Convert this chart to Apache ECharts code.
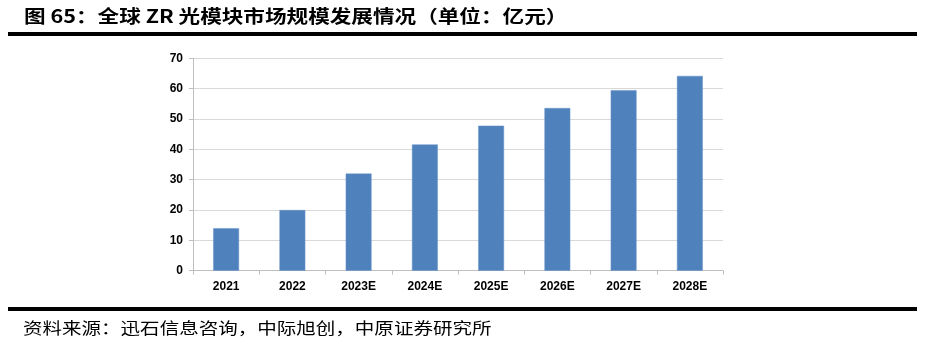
<!DOCTYPE html>
<html>
<head>
<meta charset="utf-8">
<script src="https://cdn.jsdelivr.net/npm/echarts@6/dist/echarts.min.js"></script>
<style>
  html, body { margin: 0; padding: 0; background: #fff; }
  #chart { width: 926px; height: 343px; }
</style>
</head>
<body>
<div id="chart"></div>
<script>
// Global ZR optical module market size (unit: 100 million yuan)
const years = ['2021', '2022', '2023E', '2024E', '2025E', '2026E', '2027E', '2028E'];
const marketSize = [14, 20, 32, 41.6, 47.8, 53.6, 59.5, 64.2];
const titleText = '图 65：全球 ZR 光模块市场规模发展情况（单位：亿元）';
const sourceText = '资料来源：迅石信息咨询，中际旭创，中原证券研究所';

const chart = echarts.init(document.getElementById('chart'), null, { renderer: 'canvas' });

const cjk = '"Noto Sans CJK SC", "Noto Sans", sans-serif';
const latin = 'Arial, "Liberation Sans", sans-serif';

chart.setOption({
  animation: false,
  backgroundColor: '#ffffff',
  grid: { left: 193, right: 203, top: 58.3, height: 212.4, containLabel: false },
  xAxis: {
    type: 'category',
    data: years,
    boundaryGap: true,
    axisLine: { show: true, lineStyle: { color: '#bfbfbf', width: 1 } },
    axisTick: { show: true, length: 4, lineStyle: { color: '#bfbfbf' } },
    axisLabel: { color: '#000', fontFamily: latin, fontWeight: 'bold', fontSize: 12, margin: 10 }
  },
  yAxis: {
    type: 'value',
    min: 0, max: 70, interval: 10,
    axisLine: { show: true, lineStyle: { color: '#bfbfbf', width: 1 } },
    axisTick: { show: true, length: 4, lineStyle: { color: '#bfbfbf' } },
    splitLine: { show: true, lineStyle: { color: '#d9d9d9', width: 1 } },
    axisLabel: { color: '#000', fontFamily: latin, fontWeight: 'bold', fontSize: 12, margin: 10 }
  },
  series: [{
    type: 'bar',
    data: marketSize,
    barWidth: '39%',
    itemStyle: { color: '#4f81bd', borderColor: '#6b95c8', borderWidth: 0.5 }
  }],
  graphic: [
    {
      // headline, stretched slightly to the width of the rule below it
      type: 'text', x: 24, y: 16, scaleX: 1.2,
      style: { text: titleText, fontFamily: cjk, fontWeight: 'bold', fontSize: 18, fill: '#000',
               textAlign: 'left', textVerticalAlign: 'middle' }
    },
    {
      type: 'rect', shape: { x: 8, y: 32, width: 909, height: 4 },
      style: { fill: '#000' }
    },
    {
      type: 'rect', shape: { x: 8, y: 307, width: 909, height: 4 },
      style: { fill: '#000' }
    },
    {
      type: 'text', x: 23, y: 328, scaleX: 1.22,
      style: { text: sourceText, fontFamily: cjk, fontSize: 16, fill: '#000',
               textAlign: 'left', textVerticalAlign: 'middle' }
    }
  ]
});
</script>
</body>
</html>
